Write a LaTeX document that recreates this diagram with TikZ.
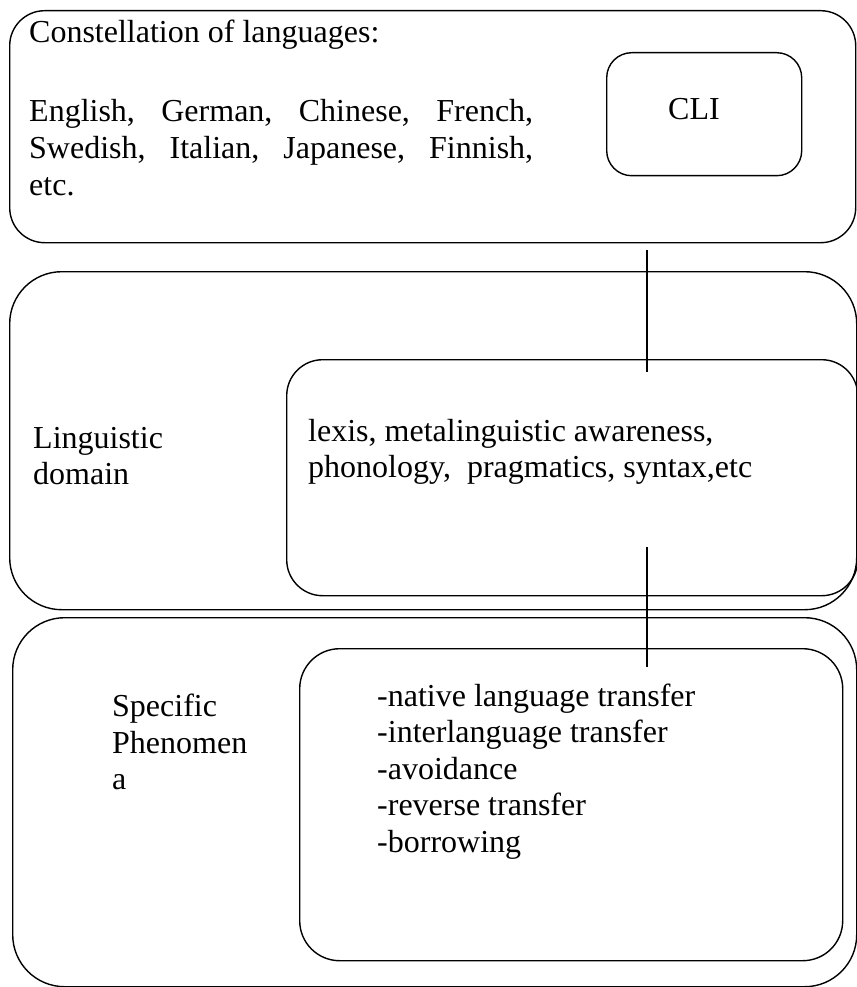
\documentclass[tikz,border=0pt]{standalone}
\usepackage{fontspec}
\setmainfont{Liberation Serif}
\begin{document}
\begin{tikzpicture}[x=1pt,y=-1pt,
  txt/.style={inner sep=0pt, anchor=base west, font=\fontsize{32}{36.8}\selectfont},
  bigbox/.style={draw=black, line width=1.4pt, rounded corners=52pt, anchor=north west, inner sep=0pt},
  topbox/.style={draw=black, line width=1.4pt, rounded corners=35pt, anchor=north west, inner sep=0pt},
  innerbox/.style={draw=black, line width=1.4pt, rounded corners=38pt, anchor=north west, inner sep=0pt},
  clibox/.style={draw=black, line width=1.4pt, rounded corners=25pt, anchor=north west, inner sep=0pt},
  link/.style={draw=black, line width=1.4pt}]
\useasboundingbox[fill=white] (0,0) rectangle (856,987);

% top box
\node[topbox, minimum width=846pt, minimum height=232pt] (b1) at (9,10) {};
\node[clibox, minimum width=195pt, minimum height=123pt] (cli) at (606,52) {};
\node[txt] (t1) at (29,43) {Constellation of languages:};
\node[txt] (t2) at (29,122) {\makebox[504pt][s]{English, German, Chinese, French,}};
\node[txt] (t3) at (29,159) {\makebox[504pt][s]{Swedish, Italian, Japanese, Finnish,}};
\node[txt] (t4) at (29,195) {etc.};
\node[txt] (clit) at (668,120) {CLI};

% middle box
\node[bigbox, minimum width=847pt, minimum height=338pt] (b2) at (9,271) {};
\node[innerbox, minimum width=571pt, minimum height=236pt, rounded corners=36pt] (b2i) at (286,359) {};
\node[txt] (l1) at (33,448) {Linguistic};
\node[txt] (l2) at (33,484) {domain};
\node[txt] (d1) at (308,441) {lexis, metalinguistic awareness,};
\node[txt] (d2) at (308,477) {phonology,\ \ pragmatics, syntax,etc};

% bottom box
\node[bigbox, minimum width=844pt, minimum height=369pt] (b3) at (12,617) {};
\node[innerbox, minimum width=543pt, minimum height=312pt, rounded corners=40pt] (b3i) at (299,648) {};
\node[txt] (s1) at (112,716) {Specific};
\node[txt] (s2) at (112,753) {Phenomen};
\node[txt] (s3) at (112,789) {a};
\node[txt] (p1) at (377,706) {-native language transfer};
\node[txt] (p2) at (377,742) {-interlanguage transfer};
\node[txt] (p3) at (377,779) {-avoidance};
\node[txt] (p4) at (377,815) {-reverse transfer};
\node[txt] (p5) at (377,852) {-borrowing};

% connectors
\coordinate (c1a) at (647,250);
\coordinate (c1b) at (647,372);
\coordinate (c2a) at (647,547);
\coordinate (c2b) at (647,667);
\draw[link] (c1a) -- (c1b);
\draw[link] (c2a) -- (c2b);
\end{tikzpicture}
\end{document}
